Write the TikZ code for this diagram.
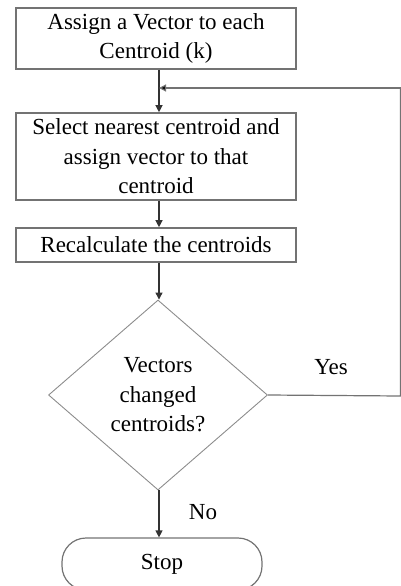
\documentclass[tikz,border=0pt]{standalone}
\usepackage{fontspec}
\setmainfont{Liberation Serif}
\usetikzlibrary{shapes.geometric,arrows.meta}
\begin{document}
\begin{tikzpicture}[x=1pt,y=-1pt,
  every node/.style={font=\fontsize{23}{29.5}\selectfont},
  procbox/.style={draw=black!55,line width=1.6pt,minimum width=280pt,align=center,inner sep=0pt},
  decision/.style={draw=black!45,line width=0.9pt,diamond,minimum width=219pt,minimum height=190pt,inner sep=0pt,align=center},
  terminal/.style={draw=black!55,line width=1.2pt,rounded corners=24pt,minimum width=200pt,minimum height=52pt,inner sep=0pt},
  flow/.style={draw=black!80,line width=1.2pt,-{Triangle[length=7pt,width=7pt]}},
  back/.style={draw=black!55,line width=1.2pt},
  lbl/.style={inner sep=0pt}]
\useasboundingbox (0,0) rectangle (401,586);
\clip (0,0) rectangle (401,586);
\node[procbox,minimum height=61pt] (b1) at (156,38.5) {Assign a Vector to each\\Centroid (k)};
\node[procbox,minimum height=87pt] (b2) at (156,156.5) {Select nearest centroid and\\assign vector to that\\centroid};
\node[procbox,minimum height=34pt] (b3) at (156,245) {Recalculate the centroids};
\node[decision] (d) at (158,395) {Vectors\\changed\\centroids?};
\node[terminal] (s) at (162,564) {Stop};
\coordinate (j) at (159,88);
\coordinate (r1) at (400.5,396);
\coordinate (r2) at (400.5,88);
\draw[flow] (b1.south -| j) -- (b2.north -| j);
\draw[flow] (b2.south -| j) -- (b3.north -| j);
\draw[flow] (b3.south -| j) -- (d.north -| j);
\draw[flow] (d.south -| j) -- (s.north -| j);
\draw[back] (d.east) -- (r1) -- (r2);
\draw[back,-{Triangle[length=7pt,width=7pt,fill=black]}] (r2) -- (j);
\node[lbl] (yes) at (331,367) {Yes};
\node[lbl] (no) at (203,512) {No};
\end{tikzpicture}
\end{document}
